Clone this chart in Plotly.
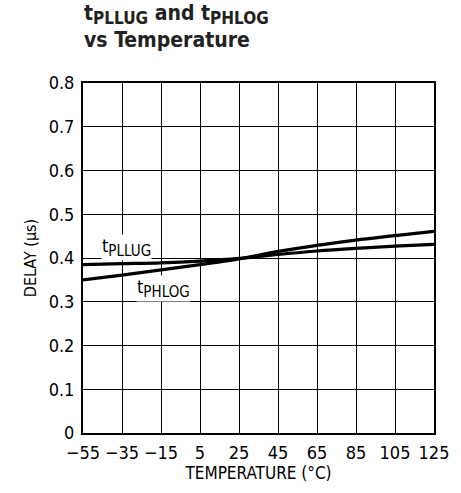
import plotly.graph_objects as go

# Propagation delay vs temperature
temperature = [-55, -35, -15, 5, 25, 45, 65, 85, 105, 125]
t_pllug = [0.385, 0.387, 0.389, 0.393, 0.399, 0.408, 0.416, 0.422, 0.427, 0.431]
t_phlog = [0.350, 0.361, 0.373, 0.385, 0.398, 0.415, 0.429, 0.441, 0.451, 0.461]

x_ticks = [-55, -35, -15, 5, 25, 45, 65, 85, 105, 125]
x_tick_text = ["\u221255", "\u221235", "\u221215", "5", "25", "45", "65", "85", "105", "125"]
y_ticks = [0, 0.1, 0.2, 0.3, 0.4, 0.5, 0.6, 0.7, 0.8]
y_tick_text = ["0", "0.1", "0.2", "0.3", "0.4", "0.5", "0.6", "0.7", "0.8"]

FONT = "DejaVu Sans Condensed, Liberation Sans Narrow, Roboto, sans-serif"


def sub(text, size):
    return f"<sub><span style='font-size:{size}px'>{text}</span></sub>"


fig = go.Figure()
fig.add_trace(go.Scatter(x=temperature, y=t_pllug, mode="lines", line=dict(color="black", width=3.2, shape="spline"), showlegend=False))
fig.add_trace(go.Scatter(x=temperature, y=t_phlog, mode="lines", line=dict(color="black", width=3.2, shape="spline"), showlegend=False))

fig.add_annotation(x=-32.5, y=0.424, text="t" + sub("PLLUG", 15), showarrow=False, xanchor="center", yanchor="middle",
                   font=dict(family=FONT, size=18, color="black"), bgcolor="white", borderpad=0)
fig.add_annotation(x=-13.5, y=0.331, text="t" + sub("PHLOG", 15), showarrow=False, xanchor="center", yanchor="middle",
                   font=dict(family=FONT, size=18, color="black"), bgcolor="white", borderpad=0)

fig.add_annotation(xref="paper", yref="paper", x=-0.003, y=1.24, xanchor="left", yanchor="top", align="left",
                   text="<b>t" + sub("PLLUG", 17) + " and t" + sub("PHLOG", 17) + "</b><br><b>vs Temperature</b>",
                   showarrow=False, font=dict(family=FONT, size=21, color="#222"))

fig.update_layout(
    width=461, height=493,
    margin=dict(l=83, r=27, t=83, b=60),
    paper_bgcolor="white", plot_bgcolor="white",
    font=dict(family=FONT, size=16, color="black"),
    xaxis=dict(range=[-55, 125], tickvals=x_ticks, ticktext=x_tick_text, showgrid=True, gridcolor="black", gridwidth=1,
               showline=True, linecolor="black", linewidth=2, mirror=True, zeroline=False, ticks="",
               ticklabelstandoff=2,
               title=dict(text="TEMPERATURE (\u00b0C)", font=dict(family=FONT, size=17), standoff=3),
               tickfont=dict(family=FONT, size=18)),
    yaxis=dict(range=[0, 0.8], tickvals=y_ticks, ticktext=y_tick_text, showgrid=True, gridcolor="black", gridwidth=1,
               showline=True, linecolor="black", linewidth=2, mirror=True, zeroline=False, ticks="",
               ticklabelstandoff=3,
               title=dict(text="DELAY (\u00b5s)", font=dict(family=FONT, size=16), standoff=8),
               tickfont=dict(family=FONT, size=18)),
)

fig.write_html("out.html")
